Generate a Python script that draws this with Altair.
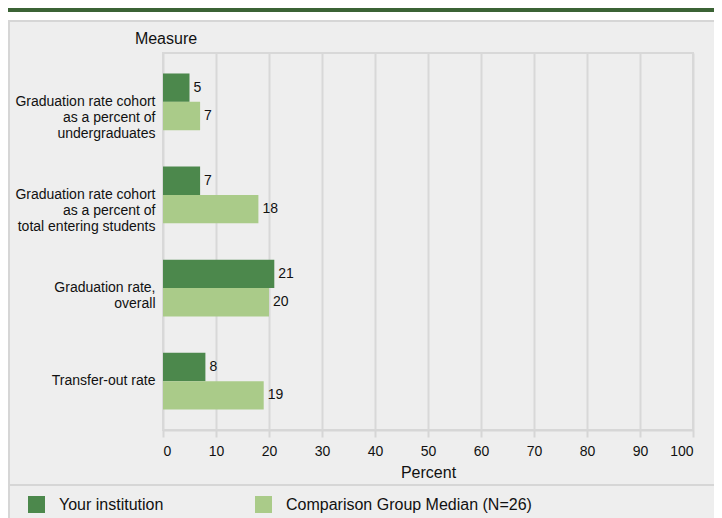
import altair as alt
import pandas as pd

measure_lines = [
    ["Graduation rate cohort", "as a percent of", "undergraduates"],
    ["Graduation rate cohort", "as a percent of", "total entering students"],
    ["Graduation rate,", "overall"],
    ["Transfer-out rate"],
]
series_names = ["Your institution", "Comparison Group Median (N=26)"]
your_values = [5, 7, 21, 8]
comparison_values = [7, 18, 20, 19]
x_ticks = [0, 10, 20, 30, 40, 50, 60, 70, 80, 90, 100]

colors = ["#4c884c", "#aacb89"]
FONT = "Liberation Sans"

measures = ["|".join(l) for l in measure_lines]
rows = []
for m, a, b in zip(measures, your_values, comparison_values):
    rows.append({"measure": m, "series": series_names[0], "value": a})
    rows.append({"measure": m, "series": series_names[1], "value": b})
df = pd.DataFrame(rows)

one = alt.Data(values=[{"k": 1}])

top_white = alt.Chart(one).mark_rect(fill="#ffffff").encode(
    x=alt.value(-160), x2=alt.value(620), y=alt.value(-50), y2=alt.value(-33)
)
strip = alt.Chart(one).mark_rect(fill="#3b6335").encode(
    x=alt.value(-155), x2=alt.value(620), y=alt.value(-45), y2=alt.value(-41)
)
top_border = alt.Chart(one).mark_rule(stroke="#d6d6d6", strokeWidth=2).encode(
    x=alt.value(-155), x2=alt.value(620), y=alt.value(-32)
)
left_border = alt.Chart(one).mark_rule(stroke="#d6d6d6", strokeWidth=2).encode(
    x=alt.value(-154), y=alt.value(-33), y2=alt.value(520)
)
separator = alt.Chart(one).mark_rule(stroke="#d6d6d6", strokeWidth=2).encode(
    x=alt.value(-154), x2=alt.value(620), y=alt.value(432)
)

y_enc = alt.Y(
    "measure:N",
    sort=measures,
    scale=alt.Scale(paddingInner=0.39, paddingOuter=0.22),
    axis=alt.Axis(
        title="Measure",
        titleAngle=0,
        titleX=2.5,
        titleY=-14.5,
        titleAlign="center",
        titleBaseline="middle",
        titleFont=FONT,
        titleFontSize=16,
        titleFontWeight="normal",
        titleColor="#111111",
        labelExpr="split(datum.label, '|')",
        labelFont=FONT,
        labelFontSize=14,
        labelLineHeight=16,
        labelColor="#111111",
        labelPadding=8,
        labelLimit=0,
        ticks=False,
        domain=False,
        grid=False,
    ),
)
yoff = alt.YOffset("series:N", sort=series_names, scale=alt.Scale(paddingInner=0, paddingOuter=0))

x_enc = alt.X(
    "value:Q",
    scale=alt.Scale(domain=[0, 100], nice=False),
    axis=alt.Axis(
        title="Percent",
        values=x_ticks,
        titleFont=FONT,
        titleFontSize=16,
        titleFontWeight="normal",
        titleColor="#111111",
        titleY=42,
        titleBaseline="middle",
        labelFont=FONT,
        labelFontSize=14,
        labelColor="#111111",
        labelPadding=7,
        tickSize=7,
        tickColor="#d6d6d6",
        tickWidth=2,
        domainColor="#d6d6d6",
        domainWidth=2,
        grid=True,
        gridColor="#d8d8d8",
        gridWidth=2,
    ),
)

bars = alt.Chart(df).mark_bar().encode(
    x=x_enc,
    y=y_enc,
    yOffset=yoff,
    fill=alt.Fill(
        "series:N",
        sort=series_names,
        scale=alt.Scale(domain=series_names, range=colors),
        legend=alt.Legend(
            title=None,
            orient="none",
            legendX=-135,
            legendY=443,
            direction="horizontal",
            symbolType="square",
            symbolSize=289,
            symbolStrokeWidth=0,
            labelFont=FONT,
            labelFontSize=16,
            labelColor="#111111",
            labelOffset=14,
            columnPadding=91,
            labelLimit=0,
        ),
    ),
)

labels = alt.Chart(df).mark_text(align="left", baseline="middle", dx=4, font=FONT, fontSize=14, color="#111111").encode(
    x="value:Q",
    y=alt.Y("measure:N", sort=measures),
    yOffset=alt.YOffset("series:N", sort=series_names),
    text="value:Q",
)

chart = alt.layer(top_white, strip, top_border, left_border, separator, bars, labels).properties(
    width=530,
    height=377,
    autosize=alt.AutoSizeParams(type="none"),
    padding={"left": 155, "top": 45, "right": 21, "bottom": 88},
    background="#eeeeee",
).configure_view(stroke="#d8d8d8", strokeWidth=2)

chart.save("out.html", embed_options={"renderer": "svg", "actions": False})
